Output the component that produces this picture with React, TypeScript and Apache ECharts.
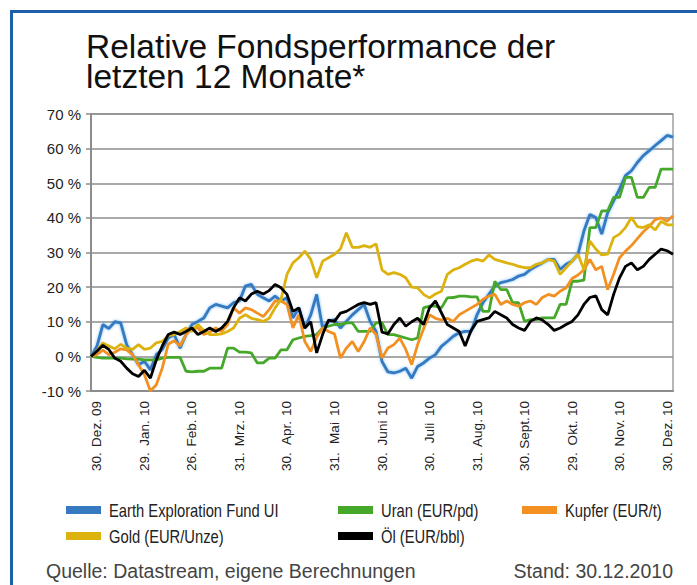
import React, { useEffect, useRef } from "react";
import * as echarts from "echarts";

const monthLabels = [
  "30. Dez. 09", "29. Jan. 10", "26. Feb. 10", "31. Mrz. 10", "30. Apr. 10", "31. Mai 10",
  "30. Juni 10", "30. Juli 10", "31. Aug. 10", "30. Sept. 10", "29. Okt. 10", "30. Nov. 10", "30. Dez. 10",
];

const seriesNames = [
  "Earth Exploration Fund UI",
  "Uran (EUR/pd)",
  "Kupfer (EUR/t)",
  "Gold (EUR/Unze)",
  "Öl (EUR/bbl)",
];

const titleLines = ["Relative Fondsperformance der", "letzten 12 Monate*"];
const sourceText = "Quelle: Datastream, eigene Berechnungen";
const dateText = "Stand: 30.12.2010";

const earth = [
  0, 2.9, 9.2, 8, 10, 9.7, 3.4, 0.5, -2.4, -1.4, -3.9, 0.5, 2, 5.3, 6.3, 2.4, 6.3, 9.2, 10.1, 11.1,
  14, 15, 14.5, 14, 15.5, 16, 20.3, 20.8, 17.9, 16.9, 16, 17.4, 16, 16.9, 11.1, 14, 8.2, 12, 17.9, 8.2,
  10, 10.6, 8.2, 10.1, 12, 13.5, 15, 10.1, 7.2, -1.5, -4.5,
  -4.8, -4.3, -3.4, -6.3, -2.9, -1.9, -0.5, 0.5, 2.9, 4.3, 5.8, 6.8, 7.2, 7.2, 12, 15.5, 17.9, 20.3, 21.3,
  21.7, 22.2, 23.2, 23.7, 25.1, 26.1, 27, 28, 28, 25.1, 26.6, 27.5, 29.5, 36.2, 41, 40.1, 35.3, 41.5, 44.9,
  48.3, 52.2, 53.6, 56, 58, 59.4, 60.9, 62.3, 63.8, 63.3,
];

const uran = [
  0, -0.3, -0.5, -0.5, -0.5, -0.5, -0.7, -0.8, -0.8, -1, -1, -1, -0.5, -0.3, -0.3, -0.3, -4.3, -4.5, -4.3, -4.3,
  -3.4, -3.4, -3.4, 2.4, 2.4, 1.2, 1.2, 1, -1.9, -1.9, -0.5, -0.5, 1.9, 1.9, 4.8, 5.3, 5.8, 6, 6.3, 8.2,
  8.7, 9.2, 9.2, 9.7, 9.7, 7.2, 7.2, 7.2, 9.7, 9.7, 6.3,
  6.3, 5.8, 5.3, 4.8, 5.3, 14, 14.5, 14.5, 14, 16.9, 17, 17.4, 17.4, 17.2, 17.2, 13, 13, 21.7, 19.3,
  19.3, 15.5, 15.5, 10.1, 10.6, 10.6, 11.1, 11.1, 11.1, 15, 15, 21.7, 21.7, 22, 37.2, 37.2, 42, 42, 45.9,
  45.9, 51.7, 51.7, 45.9, 45.9, 48.8, 48.8, 54.1, 54.1, 54.1,
];

const kupfer = [
  0, 0.5, 1.8, 0.5, 1.2, 2.2, 1.9, 0.5, -2.4, -5.3, -10, -8.2, -3.4, 3.5, 4.5, 3, 6.3, 8.2, 8.2, 6.3,
  7, 8.2, 7.2, 9.2, 14, 12.5, 14, 13.5, 12.5, 11.5, 13.5, 16, 16, 15, 8.2, 12, 4.3, 1.4, 5.5, 8.2,
  7.2, 6.5, -0.5, 2.4, 4.3, 1.4, 4.3, 8.2, 6.3, -0.5, 2.4,
  3.4, 5.3, 2, -2.4, 3.4, 8, 12, 11, 10.5, 11, 10.1, 12, 13, 14, 15, 16.5, 17.4, 17.9, 15,
  16, 15, 14.5, 15.5, 16, 15, 17, 17.9, 17.4, 18.8, 19.8, 22.5, 23.5, 25, 28, 25, 26, 19.3, 23.7,
  28.5, 30.4, 32, 34, 36, 37.5, 39.5, 40, 39, 40.6,
];

const gold = [
  0, 1.5, 3.9, 3, 2.2, 3.5, 2.4, 2, 3.4, 2, 2.4, 3.9, 4.3, 6, 6.3, 7.2, 8.2, 7.2, 9.2, 7.5,
  6.3, 6.3, 6.5, 7.2, 8.2, 11, 12, 11, 10.6, 10.1, 11, 14, 16.5, 23.7, 27, 28.5, 30.4, 28, 22.7, 27.5,
  28.5, 29.5, 31, 35.7, 31.5, 31.5, 32, 31.5, 32.5, 25, 23.7,
  24.2, 23.7, 22.7, 20, 19.8, 17.9, 16.9, 18, 18.8, 23.7, 25, 25.6, 26.6, 27.5, 28, 27.5, 29.3, 28, 27.5,
  27, 26.6, 26, 25.6, 25.6, 26.6, 27, 28, 27.5, 23.7, 25.6, 27.5, 29.5, 25, 33.3, 31, 29.3, 29.5, 34.3,
  35.3, 37.2, 40.1, 37.5, 37.2, 38, 36.5, 39, 38, 38,
];

const oel = [
  0, 1.5, 3.2, 2, -0.5, -1.4, -3.4, -5, -5.8, -4, -6.3, -1, 3, 6.3, 7, 6.3, 7.2, 8.2, 6.3, 7.2,
  8.2, 7.2, 8.2, 10.1, 14, 16.9, 16, 18, 18.8, 18, 19, 20.8, 19.8, 17.9, 13, 14, 8.2, 10, 1, 6.3,
  10.5, 10.1, 12.5, 13, 14, 15, 15.5, 15, 15.5, 7, 6.5,
  9.2, 11.1, 8.7, 10, 11, 9.2, 14, 16, 12.6, 9.2, 8.2, 7.2, 3, 7.5, 10.1, 10.6, 11.1, 13, 12,
  11.1, 9.2, 8.2, 7.5, 10.1, 11.1, 10.5, 9.2, 7.5, 8.2, 9.2, 10.1, 12, 15, 17, 17.5, 13.5, 12, 17.9,
  22.7, 26, 27, 25, 26, 28, 29.5, 31, 30.5, 29.5,
];

const yTicks = { min: -10, max: 70, interval: 10 };

const seriesData = [earth, uran, kupfer, gold, oel];
const seriesColors = ["#3579c0", "#45a828", "#f29022", "#dcb20e", "#000000"];

const POINTS_PER_MONTH = 8;
const categories: string[] = earth.map((_, i) =>
  (i - 1) % POINTS_PER_MONTH === 0 ? monthLabels[(i - 1) / POINTS_PER_MONTH] : ""
);

// legend layout: [series index, column, row]
const legendLayout = [
  [0, 0, 0],
  [1, 1, 0],
  [2, 2, 0],
  [3, 0, 1],
  [4, 1, 1],
];
const legendColX = [66, 338, 522];
const legendRowY = [510, 536];

const SANS = "'Liberation Sans', Arial, Helvetica, sans-serif";

export default function App() {
  const ref = useRef<HTMLDivElement>(null);

  useEffect(() => {
    if (!ref.current) return;
    const chart = echarts.init(ref.current, undefined, { renderer: "svg" });
    const labelStyle = { fontSize: 13.5, color: "#222", fontFamily: SANS };

    const legendGraphics: any[] = [];
    legendLayout.forEach(([k, c, r]) => {
      const x = legendColX[c];
      const y = legendRowY[r];
      legendGraphics.push({
        type: "rect",
        silent: true,
        shape: { x, y: y - 4, width: 35, height: 8 },
        style: { fill: seriesColors[k] },
      });
      legendGraphics.push({
        type: "text",
        silent: true,
        x: x + 43,
        y,
        scaleX: 0.82,
        style: {
          text: seriesNames[k],
          fontSize: 18,
          fontFamily: SANS,
          fill: "#222",
          align: "left",
          verticalAlign: "middle",
        },
      });
    });

    const option: any = {
      animation: false,
      backgroundColor: "#ffffff",
      grid: {
        left: 91,
        right: 24,
        top: 114,
        bottom: 194,
        show: true,
        borderColor: "#a0a0a0",
        borderWidth: 1.5,
        containLabel: false,
      },
      xAxis: {
        type: "category",
        data: categories,
        boundaryGap: false,
        axisLine: { onZero: false, lineStyle: { color: "#8c8c8c", width: 2 } },
        axisTick: { show: false },
        splitLine: { show: false },
        axisLabel: {
          interval: (i: number) => (i - 1) % POINTS_PER_MONTH === 0,
          rotate: 90,
          margin: 10,
          formatter: (v: string) => {
            const p = v.split(" ");
            return `{d|${p[0]}}{m|${p[1]}}{y|${p[2]}}`;
          },
          rich: {
            d: { ...labelStyle, width: 22, align: "left" },
            m: { ...labelStyle, width: 32, align: "center" },
            y: { ...labelStyle, width: 16, align: "right" },
          },
        },
      },
      yAxis: {
        type: "value",
        min: yTicks.min,
        max: yTicks.max,
        interval: yTicks.interval,
        axisLine: { show: true, lineStyle: { color: "#8c8c8c", width: 2 } },
        axisTick: { show: true, length: 5, lineStyle: { color: "#8c8c8c", width: 1.5 } },
        splitLine: { show: true, lineStyle: { color: "#8c8c8c", width: 1.5 } },
        axisLabel: { formatter: "{value} %", fontSize: 15, color: "#222", margin: 10, fontFamily: SANS },
      },
      series: seriesNames.map((name, k) => ({
        name,
        type: "line",
        data: seriesData[k],
        symbol: "none",
        showSymbol: false,
        color: seriesColors[k],
        lineStyle: {
          width: 2.8,
          color: seriesColors[k],
          ...(k === 0 ? { shadowColor: "rgba(90,170,245,0.8)", shadowBlur: 3 } : {}),
        },
        z: k === 4 ? 5 : 2,
      })),
      graphic: [
        {
          type: "rect",
          silent: true,
          shape: { x: 11.5, y: 11.5, width: 720, height: 620 },
          style: { fill: "none", stroke: "#1d5fa9", lineWidth: 3 },
        },
        ...titleLines.map((t, i) => ({
          type: "text",
          silent: true,
          x: 86,
          y: 46 + i * 30,
          style: {
            text: t,
            fontSize: 33.5,
            lineHeight: 30,
            fontFamily: SANS,
            fill: "#111",
            align: "left",
            verticalAlign: "middle",
          },
        })),
        ...legendGraphics,
        {
          type: "text",
          x: 46,
          y: 571,
          silent: true,
          style: {
            text: sourceText,
            fontSize: 19.5,
            fontFamily: SANS,
            fill: "#444",
            align: "left",
            verticalAlign: "middle",
          },
        },
        {
          type: "text",
          x: 673,
          y: 571,
          silent: true,
          style: {
            text: dateText,
            fontSize: 19.5,
            fontFamily: SANS,
            fill: "#444",
            align: "right",
            verticalAlign: "middle",
          },
        },
      ],
    };
    chart.setOption(option);
    return () => chart.dispose();
  }, []);

  return (
    <div
      ref={ref}
      style={{ position: "fixed", left: 0, top: 0, width: 697, height: 585, background: "#fff" }}
    />
  );
}
